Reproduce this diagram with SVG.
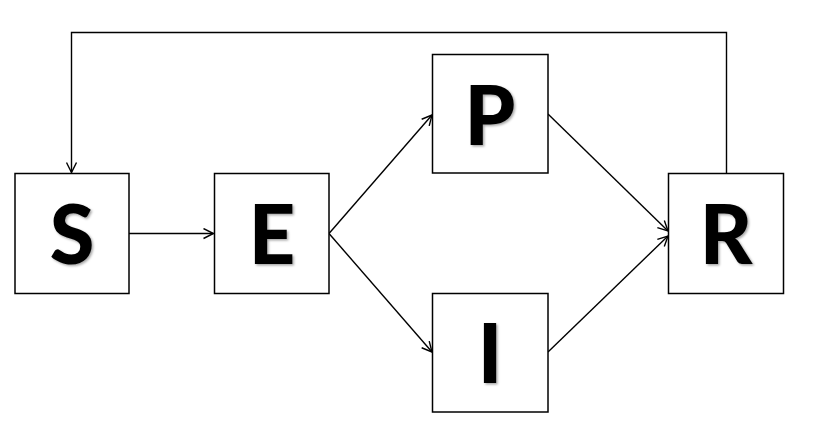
<svg xmlns="http://www.w3.org/2000/svg" width="814" height="440" viewBox="0 0 814 440">
<style>
.box{fill:#fff;stroke:#000;stroke-width:1.5}
.lbl{font-family:Lato,"Open Sans","Liberation Sans",sans-serif;font-weight:900;font-size:81px;text-anchor:middle;fill:#000;filter:url(#sh)}
.conn{fill:none;stroke:#000;stroke-width:1.4;marker-end:url(#ah)}
</style>
<defs>
<marker id="ah" viewBox="0 0 12 12" refX="11" refY="6" markerWidth="12" markerHeight="12" markerUnits="userSpaceOnUse" orient="auto">
<path d="M1,1 L11,6 L1,11" fill="none" stroke="#000" stroke-width="1.4"/>
</marker>
<filter id="sh" x="-20%" y="-20%" width="140%" height="140%">
<feDropShadow dx="1.5" dy="1.5" stdDeviation="1.2" flood-color="#000" flood-opacity="0.35"/>
</filter>
</defs>
<rect width="814" height="440" fill="#fff"/>
<g id="connectors">
<polyline class="conn" points="726.5,173 726.5,32.5 71.5,32.5 71.5,172.5"/>
<line class="conn" x1="129" y1="233.5" x2="213.5" y2="233.5"/>
<line class="conn" x1="329" y1="233.5" x2="432" y2="115"/>
<line class="conn" x1="329" y1="233.5" x2="432" y2="352"/>
<line class="conn" x1="548" y1="114" x2="668" y2="231"/>
<line class="conn" x1="548" y1="352" x2="668" y2="236"/>
</g>
<g id="node-S"><rect class="box" x="15" y="173.5" width="114" height="120"/><text class="lbl" x="72" y="264">S</text></g>
<g id="node-E"><rect class="box" x="214.5" y="173.5" width="114.5" height="120"/><text class="lbl" x="272" y="264">E</text></g>
<g id="node-P"><rect class="box" x="432.5" y="54.5" width="115.5" height="118.5"/><text class="lbl" x="490" y="145">P</text></g>
<g id="node-I"><rect class="box" x="432.5" y="293.5" width="115.5" height="118.5"/><text class="lbl" x="490" y="383">I</text></g>
<g id="node-R"><rect class="box" x="668.5" y="173.5" width="115" height="120"/><text class="lbl" x="726" y="264">R</text></g>
</svg>
